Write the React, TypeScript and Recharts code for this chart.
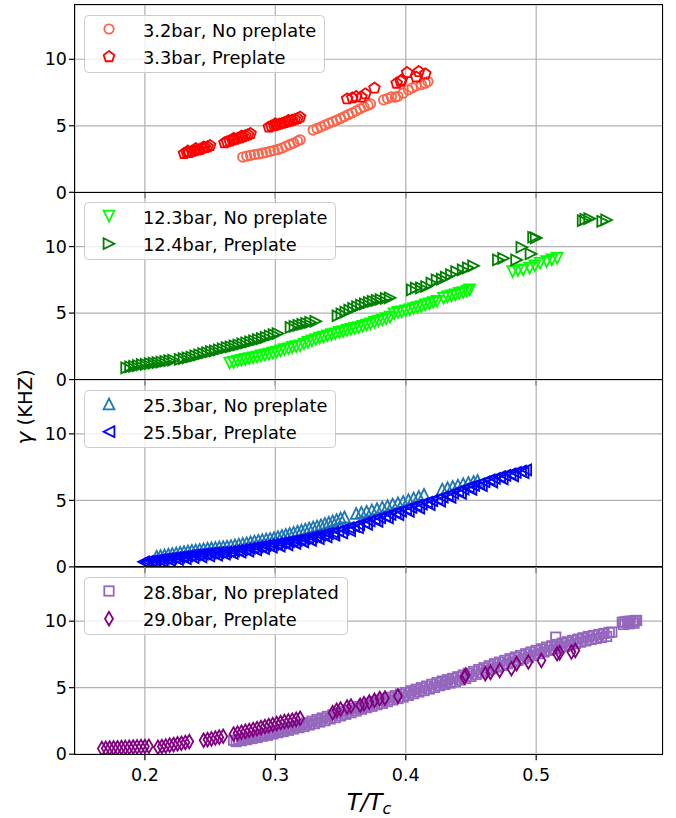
import React from 'react';
import { ScatterChart, Scatter, XAxis, YAxis, CartesianGrid, Legend } from 'recharts';

const xTicks = [0.2, 0.3, 0.4, 0.5];
const yTicks = [0, 5, 10];

// [T/Tc, gamma kHz]
const bar32 = [
  [0.275, 2.65], [0.278, 2.72], [0.281, 2.78], [0.284, 2.84], [0.287, 2.88], [0.29, 2.94], [0.293, 3.0], [0.296, 3.08],
  [0.299, 3.15], [0.302, 3.22], [0.305, 3.32], [0.308, 3.45], [0.311, 3.58], [0.314, 3.7], [0.317, 3.85], [0.319, 3.95],
  [0.329, 4.68], [0.332, 4.8], [0.335, 4.92], [0.338, 5.05], [0.341, 5.18], [0.344, 5.3], [0.347, 5.42], [0.35, 5.55],
  [0.353, 5.7], [0.356, 5.85], [0.359, 5.98], [0.362, 6.12], [0.365, 6.28], [0.368, 6.42], [0.371, 6.55], [0.373, 6.65],
  [0.383, 6.95], [0.386, 7.05], [0.389, 7.18], [0.392, 7.15], [0.394, 7.22], [0.398, 7.45], [0.402, 7.7], [0.405, 7.85],
  [0.408, 8.0], [0.412, 8.1], [0.415, 8.2], [0.417, 8.33],
];
const bar33 = [
  [0.23, 2.92], [0.232, 3.0], [0.233, 3.1], [0.234, 2.98], [0.236, 3.08], [0.238, 3.12], [0.239, 3.28], [0.24, 3.18],
  [0.242, 3.22], [0.244, 3.3], [0.245, 3.4], [0.246, 3.36], [0.248, 3.42], [0.25, 3.52],
  [0.261, 3.72], [0.263, 3.8], [0.265, 3.86], [0.267, 3.92], [0.268, 4.05], [0.269, 3.98], [0.271, 4.05], [0.273, 4.1],
  [0.274, 4.22], [0.275, 4.18], [0.277, 4.25], [0.279, 4.32], [0.281, 4.42],
  [0.295, 4.9], [0.297, 4.98], [0.299, 5.02], [0.3, 5.15], [0.301, 5.08], [0.303, 5.12], [0.305, 5.18], [0.307, 5.25],
  [0.309, 5.3], [0.31, 5.4], [0.311, 5.36], [0.313, 5.42], [0.315, 5.48], [0.317, 5.55], [0.319, 5.65],
  [0.355, 7.02], [0.359, 7.1], [0.362, 7.2], [0.366, 7.15], [0.369, 7.4], [0.376, 7.83],
  [0.393, 8.2], [0.396, 8.35], [0.397, 8.45], [0.401, 9.0], [0.408, 8.66], [0.41, 9.08], [0.415, 8.9],
];
const bar123 = [
  [0.265, 1.25], [0.268, 1.3], [0.271, 1.4], [0.274, 1.46], [0.277, 1.52], [0.28, 1.58], [0.283, 1.64], [0.286, 1.7],
  [0.289, 1.78], [0.292, 1.85], [0.295, 1.92], [0.298, 2.0], [0.301, 2.08], [0.304, 2.16], [0.307, 2.25], [0.31, 2.32],
  [0.313, 2.42], [0.316, 2.48], [0.319, 2.55], [0.322, 2.68], [0.325, 2.8], [0.328, 2.92], [0.331, 3.02], [0.334, 3.12],
  [0.337, 3.2], [0.34, 3.3], [0.343, 3.38], [0.346, 3.45], [0.349, 3.55], [0.352, 3.62], [0.355, 3.7], [0.358, 3.78],
  [0.361, 3.85], [0.364, 3.92], [0.367, 4.0], [0.37, 4.1], [0.373, 4.2], [0.376, 4.3], [0.379, 4.4], [0.382, 4.48],
  [0.385, 4.58], [0.388, 4.7],
  [0.391, 4.95], [0.394, 5.05], [0.397, 5.1], [0.4, 5.18], [0.403, 5.25], [0.406, 5.35], [0.409, 5.42], [0.412, 5.5],
  [0.415, 5.62], [0.418, 5.7], [0.421, 5.8], [0.424, 5.88],
  [0.429, 6.12], [0.432, 6.22], [0.435, 6.3], [0.438, 6.38], [0.441, 6.48], [0.444, 6.55], [0.447, 6.65], [0.449, 6.75],
  [0.482, 8.12], [0.486, 8.2], [0.49, 8.25], [0.495, 8.38], [0.499, 8.55], [0.503, 8.75], [0.508, 8.88], [0.512, 9.0],
  [0.516, 9.12],
];
const bar124 = [
  [0.186, 0.88], [0.189, 0.95], [0.192, 1.0], [0.195, 1.05], [0.198, 1.12], [0.201, 1.15], [0.204, 1.2], [0.207, 1.24],
  [0.21, 1.27], [0.213, 1.32], [0.216, 1.38], [0.219, 1.42], [0.222, 1.47], [0.227, 1.52], [0.23, 1.58], [0.233, 1.64],
  [0.236, 1.7], [0.239, 1.78], [0.242, 1.86], [0.245, 1.95], [0.248, 2.02], [0.251, 2.1], [0.254, 2.16], [0.257, 2.24],
  [0.26, 2.32], [0.263, 2.4], [0.266, 2.46], [0.269, 2.54], [0.272, 2.6], [0.275, 2.68], [0.278, 2.76], [0.281, 2.84],
  [0.284, 2.92], [0.287, 3.0], [0.29, 3.08], [0.293, 3.18], [0.296, 3.28], [0.299, 3.38], [0.302, 3.46],
  [0.312, 3.92], [0.315, 4.0], [0.318, 4.08], [0.321, 4.15], [0.324, 4.22], [0.327, 4.3], [0.331, 4.38],
  [0.348, 4.8], [0.351, 4.95], [0.354, 5.08], [0.357, 5.22], [0.36, 5.35], [0.363, 5.48], [0.366, 5.6], [0.369, 5.7],
  [0.372, 5.8], [0.375, 5.88], [0.378, 5.95], [0.381, 6.02], [0.385, 6.1], [0.388, 6.15],
  [0.405, 6.75], [0.408, 6.88], [0.412, 6.9], [0.416, 7.0], [0.42, 7.25], [0.424, 7.5], [0.428, 7.55], [0.431, 7.7],
  [0.435, 7.9], [0.439, 8.12], [0.444, 8.25], [0.448, 8.4], [0.452, 8.55],
  [0.471, 9.0], [0.475, 9.12], [0.485, 9.0], [0.489, 9.95], [0.496, 9.45], [0.498, 10.7], [0.5, 10.65],
  [0.536, 11.95], [0.538, 12.05], [0.541, 12.1], [0.551, 11.9], [0.554, 12.0],
];
const bar253 = [
  [0.209, 0.8], [0.212, 0.85], [0.215, 0.9], [0.218, 0.95], [0.221, 1.0], [0.224, 1.05], [0.227, 1.1], [0.23, 1.15],
  [0.233, 1.2], [0.236, 1.24], [0.239, 1.28], [0.242, 1.32], [0.245, 1.36], [0.248, 1.4], [0.251, 1.43], [0.254, 1.46],
  [0.257, 1.5], [0.26, 1.53], [0.263, 1.56], [0.266, 1.6], [0.269, 1.65], [0.272, 1.7], [0.275, 1.76], [0.278, 1.82],
  [0.281, 1.88], [0.284, 1.94], [0.287, 2.0], [0.29, 2.05], [0.293, 2.1], [0.296, 2.15], [0.299, 2.2], [0.302, 2.28],
  [0.305, 2.36], [0.308, 2.44], [0.311, 2.52], [0.314, 2.6], [0.317, 2.68], [0.32, 2.76], [0.323, 2.84], [0.326, 2.92],
  [0.329, 3.0], [0.332, 3.08], [0.335, 3.16], [0.338, 3.26], [0.341, 3.36], [0.344, 3.46], [0.347, 3.56], [0.35, 3.66],
  [0.353, 3.75],
  [0.362, 4.02], [0.366, 4.1], [0.37, 4.18], [0.374, 4.28], [0.378, 4.38], [0.382, 4.5], [0.386, 4.6], [0.39, 4.72],
  [0.394, 4.82], [0.398, 4.92], [0.402, 5.05], [0.406, 5.18], [0.41, 5.3], [0.414, 5.45],
  [0.428, 5.85], [0.432, 5.95], [0.436, 6.05], [0.44, 6.15], [0.444, 6.25], [0.448, 6.35], [0.452, 6.42], [0.455, 6.5],
];
const bar255 = [
  [0.199, 0.38], [0.202, 0.42], [0.205, 0.46], [0.208, 0.5], [0.211, 0.54], [0.214, 0.58], [0.217, 0.62], [0.22, 0.66],
  [0.223, 0.7], [0.226, 0.74], [0.229, 0.78], [0.232, 0.82], [0.235, 0.86], [0.238, 0.9], [0.241, 0.93], [0.244, 0.96],
  [0.247, 1.0], [0.25, 1.03], [0.253, 1.06], [0.256, 1.08], [0.259, 1.1], [0.262, 1.12], [0.265, 1.15], [0.268, 1.2],
  [0.271, 1.25], [0.274, 1.3], [0.277, 1.35], [0.28, 1.4], [0.283, 1.45], [0.286, 1.5], [0.289, 1.55], [0.292, 1.6],
  [0.295, 1.65], [0.298, 1.7], [0.301, 1.75], [0.304, 1.8], [0.307, 1.85], [0.31, 1.9], [0.313, 1.95], [0.316, 2.0],
  [0.319, 2.05], [0.322, 2.12], [0.325, 2.18], [0.328, 2.25], [0.331, 2.32], [0.334, 2.38], [0.337, 2.45], [0.34, 2.52],
  [0.344, 2.6], [0.348, 2.7], [0.352, 2.82], [0.356, 2.95], [0.36, 3.05], [0.364, 3.18], [0.368, 3.32], [0.372, 3.45],
  [0.376, 3.58], [0.38, 3.7], [0.384, 3.82], [0.388, 3.95], [0.392, 4.08], [0.396, 4.2], [0.4, 4.35], [0.404, 4.48],
  [0.408, 4.6], [0.412, 4.72], [0.416, 4.85], [0.42, 4.98], [0.424, 5.1], [0.428, 5.25], [0.432, 5.4], [0.436, 5.55],
  [0.44, 5.7], [0.444, 5.85], [0.448, 6.0], [0.452, 6.12], [0.456, 6.25], [0.46, 6.4], [0.464, 6.55], [0.468, 6.65],
  [0.472, 6.78], [0.476, 6.88], [0.48, 7.0], [0.484, 7.1], [0.488, 7.2], [0.492, 7.3],
  // lower edge of the band
  [0.201, 0.3], [0.207, 0.36], [0.213, 0.42], [0.219, 0.5], [0.225, 0.56], [0.231, 0.62], [0.237, 0.7], [0.243, 0.76],
  [0.249, 0.82], [0.255, 0.88], [0.261, 0.95], [0.267, 1.02], [0.273, 1.1], [0.279, 1.18], [0.285, 1.28], [0.291, 1.38],
  [0.297, 1.48], [0.303, 1.56], [0.309, 1.66], [0.315, 1.76], [0.321, 1.88], [0.327, 2.0], [0.333, 2.12], [0.339, 2.25],
  [0.345, 2.38], [0.351, 2.55], [0.357, 2.72], [0.363, 2.95], [0.37, 3.2], [0.378, 3.42], [0.386, 3.68], [0.394, 3.92],
  [0.402, 4.18], [0.41, 4.42], [0.418, 4.68], [0.426, 4.95], [0.434, 5.22], [0.442, 5.52], [0.45, 5.82], [0.458, 6.1],
  [0.466, 6.38], [0.474, 6.62], [0.482, 6.85], [0.49, 7.08],
];
const bar288 = [
  [0.268, 1.05], [0.272, 1.12], [0.276, 1.2], [0.28, 1.28], [0.284, 1.36], [0.288, 1.45], [0.292, 1.55], [0.296, 1.65],
  [0.3, 1.75], [0.304, 1.85], [0.308, 1.95], [0.312, 2.05], [0.316, 2.15], [0.32, 2.25], [0.324, 2.35], [0.328, 2.48],
  [0.332, 2.6], [0.336, 2.72], [0.34, 2.84], [0.344, 2.96], [0.348, 3.08], [0.352, 3.2], [0.356, 3.32], [0.36, 3.45],
  [0.364, 3.58], [0.368, 3.7], [0.372, 3.82], [0.376, 3.94], [0.38, 4.05], [0.384, 4.15], [0.388, 4.28], [0.392, 4.4],
  [0.396, 4.52], [0.4, 4.64], [0.404, 4.76], [0.408, 4.88], [0.412, 5.0], [0.416, 5.12], [0.42, 5.25], [0.424, 5.38],
  [0.428, 5.5], [0.431, 5.43], [0.432, 5.6], [0.436, 5.7], [0.44, 5.82], [0.444, 5.95], [0.448, 6.08], [0.452, 6.22],
  [0.456, 6.36], [0.46, 6.5], [0.464, 6.65], [0.468, 6.8], [0.472, 6.92], [0.476, 7.05], [0.48, 7.18], [0.484, 7.3],
  [0.488, 7.42], [0.492, 7.55], [0.496, 7.68], [0.5, 7.8], [0.504, 7.92], [0.508, 8.05], [0.512, 8.15], [0.515, 8.8],
  [0.516, 8.25], [0.52, 8.35], [0.524, 8.45], [0.528, 8.55], [0.532, 8.65], [0.536, 8.75], [0.54, 8.85], [0.544, 8.92],
  [0.548, 9.0], [0.552, 9.08], [0.556, 9.15], [0.558, 9.18],
  [0.566, 9.92], [0.568, 9.95], [0.57, 9.98], [0.572, 10.0], [0.574, 10.0], [0.576, 10.05], [0.577, 10.05],
  // lower edge of the band
  [0.27, 0.95], [0.274, 1.02], [0.278, 1.1], [0.282, 1.18], [0.286, 1.25], [0.29, 1.35], [0.294, 1.42], [0.298, 1.52],
  [0.302, 1.62], [0.306, 1.7], [0.31, 1.8], [0.314, 1.9], [0.318, 2.0], [0.322, 2.08], [0.326, 2.2], [0.33, 2.3],
  [0.334, 2.42], [0.338, 2.52], [0.342, 2.65], [0.346, 2.75], [0.35, 2.88], [0.354, 3.0], [0.358, 3.12], [0.362, 3.25],
  [0.366, 3.38], [0.37, 3.5], [0.374, 3.6], [0.378, 3.72], [0.382, 3.82], [0.386, 3.95], [0.39, 4.08], [0.394, 4.18],
  [0.398, 4.3], [0.402, 4.42], [0.406, 4.55], [0.41, 4.68], [0.414, 4.78], [0.418, 4.9], [0.422, 5.02], [0.426, 5.15],
  [0.43, 5.25], [0.434, 5.35], [0.438, 5.45], [0.442, 5.58], [0.446, 5.7], [0.45, 5.85], [0.454, 6.0], [0.458, 6.12],
  [0.462, 6.28], [0.466, 6.42], [0.47, 6.55], [0.474, 6.68], [0.478, 6.8], [0.482, 6.92], [0.486, 7.05], [0.49, 7.18],
  [0.494, 7.3], [0.498, 7.42], [0.502, 7.55], [0.506, 7.68], [0.51, 7.8], [0.514, 7.9], [0.518, 8.0], [0.522, 8.1],
  [0.526, 8.22], [0.53, 8.32], [0.534, 8.42], [0.538, 8.52], [0.542, 8.62], [0.546, 8.7], [0.55, 8.78], [0.554, 8.85],
  [0.567, 9.75], [0.571, 9.8], [0.575, 9.85],
];
const bar290 = [
  [0.167, 0.42], [0.17, 0.44], [0.173, 0.46], [0.176, 0.47], [0.179, 0.48], [0.182, 0.5], [0.185, 0.51], [0.188, 0.52],
  [0.191, 0.54], [0.194, 0.55], [0.197, 0.57], [0.2, 0.58], [0.203, 0.6],
  [0.21, 0.52], [0.213, 0.58], [0.216, 0.62], [0.219, 0.68], [0.222, 0.72], [0.225, 0.78], [0.228, 0.82], [0.231, 0.88],
  [0.234, 0.95],
  [0.245, 1.05], [0.248, 1.1], [0.251, 1.15], [0.254, 1.22], [0.257, 1.28], [0.26, 1.35],
  [0.268, 1.52], [0.271, 1.58], [0.274, 1.65], [0.277, 1.72], [0.28, 1.78], [0.283, 1.85], [0.286, 1.92], [0.289, 2.0],
  [0.292, 2.08], [0.295, 2.15], [0.298, 2.22], [0.301, 2.3], [0.304, 2.38], [0.307, 2.45], [0.31, 2.5], [0.313, 2.55],
  [0.316, 2.62], [0.319, 2.7],
  [0.344, 3.12], [0.347, 3.3], [0.35, 3.4], [0.355, 3.55], [0.358, 3.62], [0.365, 3.68], [0.368, 3.8], [0.372, 3.92],
  [0.376, 4.05], [0.38, 4.18], [0.384, 4.22], [0.394, 4.37],
  [0.445, 5.8], [0.446, 5.95], [0.461, 6.05], [0.465, 6.15], [0.472, 6.3], [0.481, 6.43], [0.485, 6.8], [0.494, 6.93],
  [0.504, 7.05], [0.516, 7.55], [0.518, 7.62], [0.527, 7.68], [0.53, 7.8],
];

const FONT = 'DejaVu Sans';
const W = 676;
const H = 818;
const PLOT_L = 75;
const PLOT_R = 662.7;
const PANEL_TOP = 5;
const PANEL_H = 187.3;
const xDomain = [0.1464, 0.597];
const yDomain = [0, 14.08];

const toPts = (a: number[][]) => a.map(([x, y]) => ({ x, y }));

function Marker({ kind, cx, cy, color }: any) {
  const s = { fill: 'none', stroke: color, strokeWidth: 1.8 };
  const poly = (pts: number[][]) => (
    <polygon points={pts.map(([dx, dy]) => `${cx + dx},${cy + dy}`).join(' ')} {...s} />
  );
  const r = 5.4;
  switch (kind) {
    case 'o':
      return <circle cx={cx} cy={cy} r={4.7} {...s} />;
    case 'p': {
      const pts = [0, 1, 2, 3, 4].map((k) => {
        const a = ((-90 + k * 72) * Math.PI) / 180;
        return [5.6 * Math.cos(a), 5.6 * Math.sin(a)];
      });
      return poly(pts);
    }
    case 'v':
      return poly([[0, r], [-r, -r], [r, -r]]);
    case '>':
      return poly([[r, 0], [-r, -r], [-r, r]]);
    case '^':
      return poly([[0, -r], [-r, r], [r, r]]);
    case '<':
      return poly([[-r, 0], [r, -r], [r, r]]);
    case 's':
      return <rect x={cx - 4.7} y={cy - 4.7} width={9.4} height={9.4} {...s} />;
    case 'd':
      return poly([[0, -6.8], [4, 0], [0, 6.8], [-4, 0]]);
    default:
      return null;
  }
}

const panels = [
  {
    legendW: 241,
    series: [
      { name: '3.2bar, No preplate', color: '#ff6347', kind: 'o', data: bar32 },
      { name: '3.3bar, Preplate', color: '#ff0000', kind: 'p', data: bar33 },
    ],
  },
  {
    legendW: 252,
    series: [
      { name: '12.3bar, No preplate', color: '#00ff00', kind: 'v', data: bar123 },
      { name: '12.4bar, Preplate', color: '#008000', kind: '>', data: bar124 },
    ],
  },
  {
    legendW: 252,
    series: [
      { name: '25.3bar, No preplate', color: '#1f77b4', kind: '^', data: bar253 },
      { name: '25.5bar, Preplate', color: '#0000ff', kind: '<', data: bar255 },
    ],
  },
  {
    legendW: 264,
    series: [
      { name: '28.8bar, No preplated', color: '#9467bd', kind: 's', data: bar288 },
      { name: '29.0bar, Preplate', color: '#800080', kind: 'd', data: bar290 },
    ],
  },
];

function PanelLegend({ series, w }: any) {
  return (
    <svg width={w} height={58} style={{ display: 'block' }}>
      <rect x={0.5} y={0.5} width={w - 1} height={57} rx={4} fill="#fff" fillOpacity={0.8} stroke="#cccccc" />
      {series.map((s: any, i: number) => (
        <g key={s.name}>
          <Marker kind={s.kind} cx={25} cy={14 + i * 27.7} color={s.color} />
          <text x={59} y={21.7 + i * 26.8} fontFamily={FONT} fontSize={17.8} fill="#000">
            {s.name}
          </text>
        </g>
      ))}
    </svg>
  );
}

function Panel({ idx }: { idx: number }) {
  const p = panels[idx];
  const top = PANEL_TOP + idx * PANEL_H;
  const bottom = top + PANEL_H;
  const last = idx === panels.length - 1;
  const xh = last ? 30 : 1;
  return (
    <div style={{ position: 'absolute', left: 0, top: 0 }}>
      <ScatterChart
        width={W}
        height={H}
        margin={{ top, right: W - PLOT_R, bottom: H - bottom - xh, left: 0 }}
      >
        <CartesianGrid stroke="#b0b0b0" strokeWidth={1.2} />
        <XAxis
          type="number"
          dataKey="x"
          domain={xDomain}
          ticks={xTicks}
          allowDataOverflow
          height={xh}
          axisLine={false}
          tickSize={6}
          tickMargin={8}
          tickLine={{ stroke: '#000', strokeWidth: 1.2 }}
          tick={last ? { fontSize: 17.5, fill: '#000', fontFamily: FONT } : () => <g />}
        />
        <YAxis
          type="number"
          dataKey="y"
          domain={yDomain}
          ticks={yTicks}
          allowDataOverflow
          width={PLOT_L}
          axisLine={false}
          tickSize={6}
          tickMargin={2}
          tickLine={{ stroke: '#000', strokeWidth: 1.2 }}
          tick={{ fontSize: 17.5, fill: '#000', fontFamily: FONT }}
        />
        {p.series.map((s) => (
          <Scatter
            key={s.name}
            name={s.name}
            data={toPts(s.data)}
            isAnimationActive={false}
            shape={(props: any) => <Marker kind={s.kind} cx={props.cx} cy={props.cy} color={s.color} />}
          />
        ))}
        <Legend
          layout="horizontal"
          verticalAlign="middle"
          align="center"
          wrapperStyle={{ left: 84, top: top + 10, width: 'auto', height: 'auto' }}
          content={() => <PanelLegend series={p.series} w={p.legendW} />}
        />
      </ScatterChart>
      <div
        style={{
          position: 'absolute',
          left: PLOT_L - 0.65,
          top: top - 0.65,
          width: PLOT_R - PLOT_L + 1.3,
          height: PANEL_H + 1.3,
          border: '1.3px solid #000',
          boxSizing: 'border-box',
          pointerEvents: 'none',
        }}
      />
    </div>
  );
}

export default function App() {
  return (
    <div style={{ position: 'absolute', left: 0, top: 0, width: W, height: H, background: '#fff' }}>
      {panels.map((_, i) => (
        <Panel key={i} idx={i} />
      ))}
      <svg width={W} height={H} style={{ position: 'absolute', left: 0, top: 0, pointerEvents: 'none' }}>
        <text
          transform="rotate(-90)"
          x={-407}
          y={31.5}
          textAnchor="middle"
          fontFamily={FONT}
          fontSize={19.5}
          fill="#000"
        >
          <tspan fontStyle="italic" fontSize={22}>γ</tspan>
          <tspan> (KHZ)</tspan>
        </text>
        <text x={369} y={810} textAnchor="middle" fontFamily={FONT} fontStyle="italic" fontSize={23} fill="#000">
          <tspan>T/T</tspan>
          <tspan fontSize={16} dy={4}>c</tspan>
        </text>
      </svg>
    </div>
  );
}
